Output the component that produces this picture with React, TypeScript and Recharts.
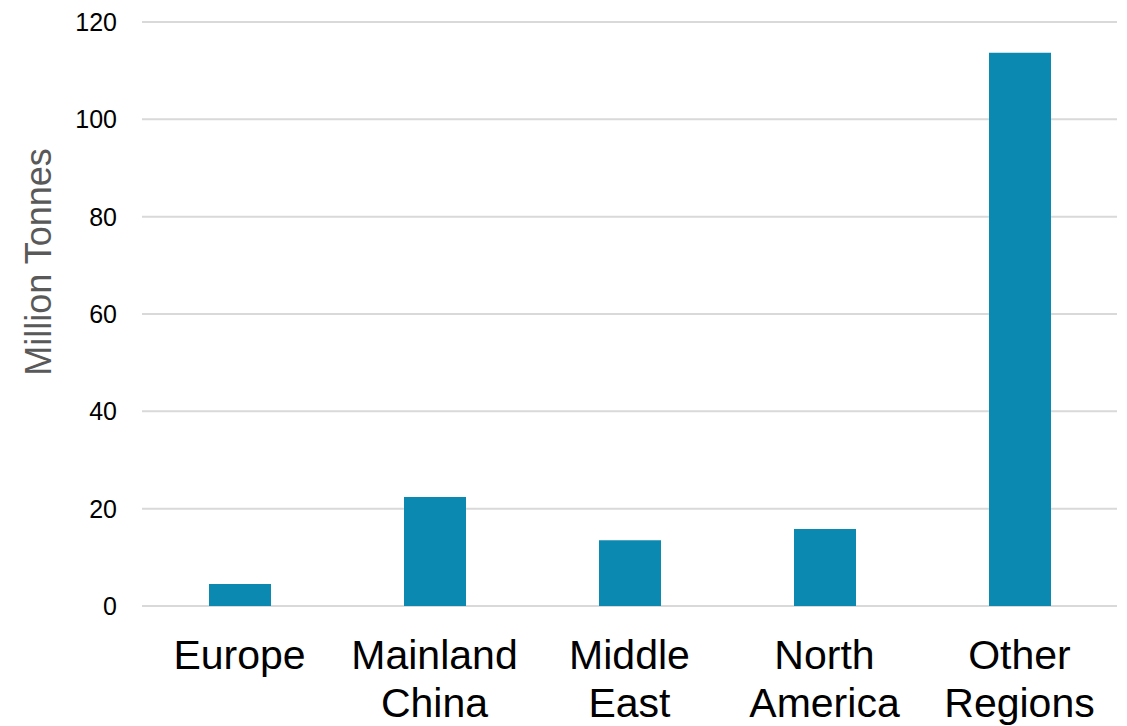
import { BarChart, Bar, XAxis, YAxis, CartesianGrid } from "recharts"

const regions = ["Europe", "Mainland China", "Middle East", "North America", "Other Regions"]
const tonnes = [4.5, 22.4, 13.5, 15.8, 113.7]
const yTicks = [0, 20, 40, 60, 80, 100, 120]

const data = regions.map((name, i) => ({ name, value: tonnes[i] }))

const FONT = '"Liberation Sans", Arial, sans-serif'

function RegionTick({ x, y, payload }: any) {
  const words = String(payload.value).split(" ")
  return (
    <text x={x} y={y} textAnchor="middle" fill="#000" fontSize={41} fontFamily={FONT}>
      {words.map((w, i) => (
        <tspan key={i} x={x} dy={i === 0 ? 63 : 48}>{w}</tspan>
      ))}
    </text>
  )
}

function AxisTitle() {
  return (
    <text
      x={51}
      y={262}
      transform="rotate(-90, 51, 262)"
      textAnchor="middle"
      fill="#595959"
      fontSize={36}
      fontFamily={FONT}
    >
      Million Tonnes
    </text>
  )
}

export default function App() {
  return (
    <div style={{ position: "absolute", left: 0, top: 0, background: "#fff" }}>
      <BarChart
        width={1127}
        height={726}
        data={data}
        margin={{ top: 22, right: 10, bottom: 0, left: 0 }}
      >
        <CartesianGrid vertical={false} stroke="#d9d9d9" strokeWidth={2} />
        <XAxis
          dataKey="name"
          axisLine={false}
          tickLine={false}
          tickSize={0}
          tickMargin={0}
          height={120}
          interval={0}
          tick={<RegionTick />}
        />
        <YAxis
          domain={[0, 120]}
          ticks={yTicks}
          width={142}
          axisLine={false}
          tickLine={false}
          tickSize={0}
          tickMargin={25}
          tick={{ fill: "#000", fontSize: 25, fontFamily: FONT }}
          label={<AxisTitle />}
        />
        <Bar dataKey="value" fill="#0c89b1" barSize={62} isAnimationActive={false} />
      </BarChart>
    </div>
  )
}
